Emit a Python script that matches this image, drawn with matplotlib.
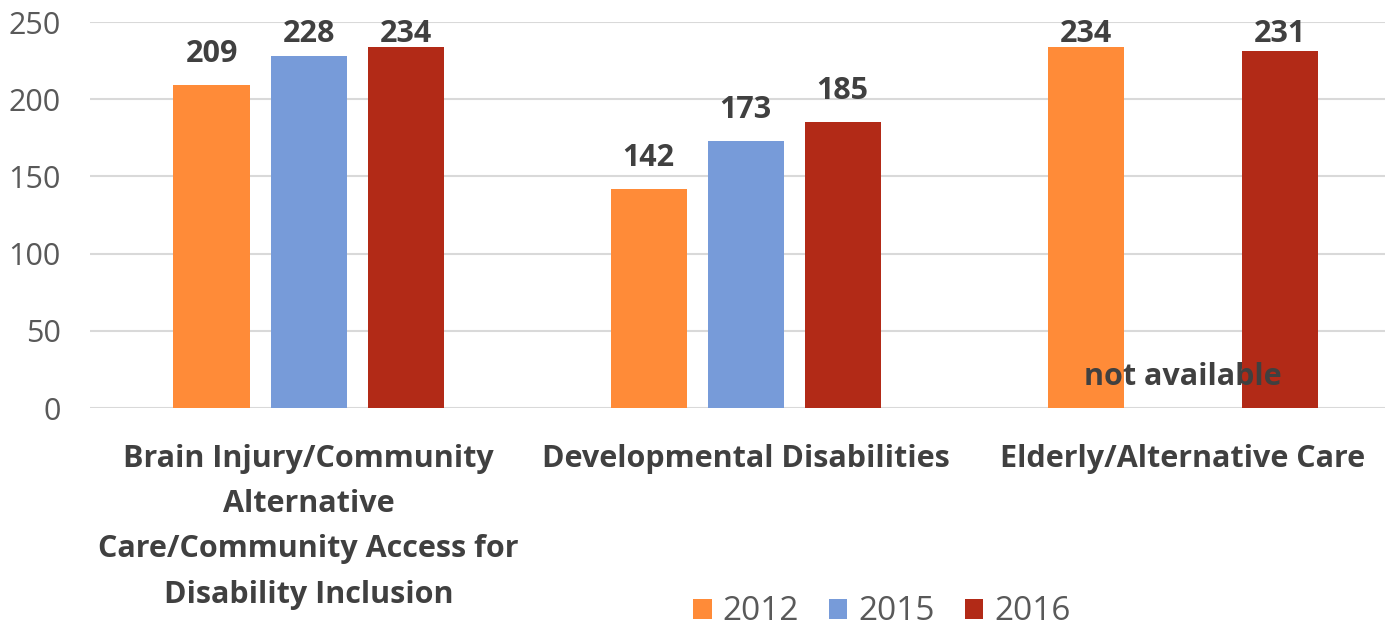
import matplotlib
matplotlib.use("Agg")
import matplotlib.pyplot as plt
import numpy as np

categories = ["Brain Injury/Community\nAlternative\nCare/Community Access for\nDisability Inclusion",
              "Developmental Disabilities",
              "Elderly/Alternative Care"]
years = ["2012", "2015", "2016"]
v2012 = [209, 142, 234]
v2015 = [228, 173, None]
v2016 = [234, 185, 231]
colors = ["#FF8B38", "#779BD9", "#B22A17"]
yticks = [0, 50, 100, 150, 200, 250]

plt.rcParams['font.family'] = ['Open Sans', 'DejaVu Sans']
fig = plt.figure(figsize=(13.87, 6.29), dpi=100)
ax = fig.add_axes([90/1387, 1-408/629, 1295/1387, 386/629])

x = np.arange(len(categories))
w = 0.174
pitch = 0.222
for i, (vals, c, yr) in enumerate(zip([v2012, v2015, v2016], colors, years)):
    xs = [xi + (i-1)*pitch for xi, v in zip(x, vals) if v is not None]
    vs = [v for v in vals if v is not None]
    ax.bar(xs, vs, width=w, color=c, label=yr, zorder=3)
    for xx, vv in zip(xs, vs):
        ax.text(xx, min(vv + 20, 242.5), str(vv), ha='center', va='center', fontsize=22,
                fontweight='bold', color='#404040', zorder=5)
ax.text(x[2], 20, "not available", ha='center', va='center', fontsize=22,
        fontweight='bold', color='#404040', zorder=5)

ax.set_xlim(-0.5, 2.463)
ax.set_ylim(0, 250)
ax.set_yticks(yticks)
ax.tick_params(axis='y', length=0, labelsize=22, labelcolor='#595959', pad=21)
ax.tick_params(axis='x', length=0, pad=26)
ax.set_xticks(x)
ax.set_xticklabels(categories, fontsize=22, fontweight='bold', color='#404040',
                   linespacing=1.66)
ax.grid(axis='y', color='#d9d9d9', linewidth=1.5, zorder=0)
for s in ax.spines.values():
    s.set_visible(False)

fig.legend(loc='center', bbox_to_anchor=(882/1387, 1-612/629), ncol=3, frameon=False,
           fontsize=24, labelcolor='#595959', handlelength=0.55, handleheight=0.55,
           columnspacing=0.9, handletextpad=0.33)
fig.savefig("out.png", dpi=100)
